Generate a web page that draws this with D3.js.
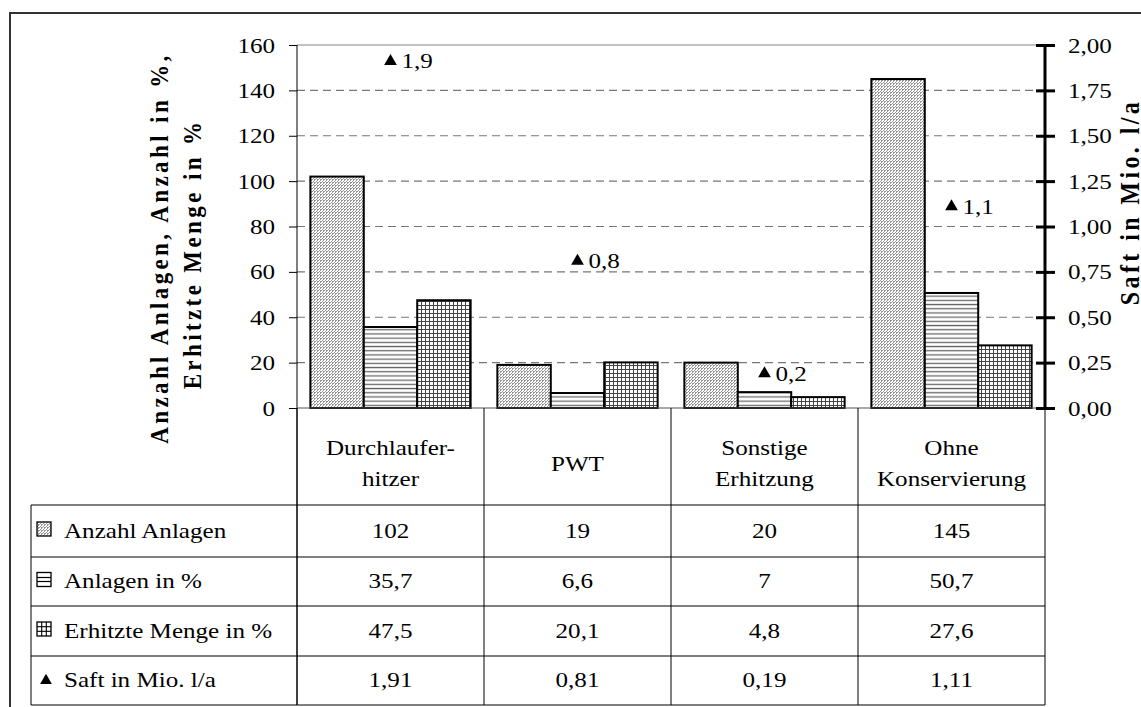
<!DOCTYPE html>
<html><head><meta charset="utf-8">
<script src="https://cdn.jsdelivr.net/npm/d3@7"></script>
<style>
html,body{margin:0;padding:0;background:#fff;}
svg{display:block;font-family:"Liberation Serif","Times New Roman",serif;}
text{font-family:"Liberation Serif","Times New Roman",serif;fill:#000;}
.sx{transform-box:fill-box;}
.sx.l{transform-origin:left center;transform:scaleX(1.14);}
.sx.m{transform-origin:center center;transform:scaleX(1.14);}
.sx.r{transform-origin:right center;transform:scaleX(1.14);}
.sy{transform-box:fill-box;transform-origin:center center;transform:scaleY(1.1);}
</style></head>
<body>
<svg id="c" width="1141" height="707"></svg>
<script>
// ---- data ----
const categories = [["Durchlaufer-","hitzer"],["PWT"],["Sonstige","Erhitzung"],["Ohne","Konservierung"]];
const seriesNames = ["Anzahl Anlagen","Anlagen in %","Erhitzte Menge in %","Saft in Mio. l/a"];
const anzahlAnlagen = [102,19,20,145];
const anlagenProzent = [35.7,6.6,7,50.7];
const erhitzteMenge = [47.5,20.1,4.8,27.6];
const saftMio = [1.91,0.81,0.19,1.11];
const leftTicks = [0,20,40,60,80,100,120,140,160];
const rightTicks = [0,0.25,0.5,0.75,1,1.25,1.5,1.75,2];
const tableText = [
  ["102","19","20","145"],
  ["35,7","6,6","7","50,7"],
  ["47,5","20,1","4,8","27,6"],
  ["1,91","0,81","0,19","1,11"]
];

const FS = "22px";
const svg = d3.select("#c");
const defs = svg.append("defs");

// patterns
const pA = defs.append("pattern").attr("id","pA").attr("patternUnits","userSpaceOnUse").attr("width",3).attr("height",3);
pA.append("rect").attr("width",3).attr("height",3).attr("fill","#fff");
pA.append("path").attr("d","M-1,1 L1,-1 M0,3 L3,0 M2,4 L4,2").attr("stroke","#8a8a8a").attr("stroke-width",0.9);
pA.append("rect").attr("x",2).attr("y",2).attr("width",0.8).attr("height",0.8).attr("fill","#555");
const pB = defs.append("pattern").attr("id","pB").attr("patternUnits","userSpaceOnUse").attr("width",4).attr("height",4.2);
pB.append("rect").attr("width",4).attr("height",4.2).attr("fill","#fff");
pB.append("rect").attr("y",1.5).attr("width",4).attr("height",1.3).attr("fill","#666");
const pC = defs.append("pattern").attr("id","pC").attr("patternUnits","userSpaceOnUse").attr("width",4).attr("height",4);
pC.append("rect").attr("width",4).attr("height",4).attr("fill","#fff");
pC.append("rect").attr("y",1).attr("width",4).attr("height",1).attr("fill","#444");
pC.append("rect").attr("x",1).attr("width",1).attr("height",4).attr("fill","#444");

const fills = ["url(#pA)","url(#pB)","url(#pC)"];
const barSeries = [anzahlAnlagen, anlagenProzent, erhitzteMenge];

// layout
const L = 297, R = 1045, T = 45, B = 408;
const x = d3.scaleBand().domain(d3.range(categories.length)).range([L,R]).paddingInner(0).paddingOuter(0);
const xs = d3.scaleBand().domain(d3.range(3)).range([0,x.bandwidth()]).paddingOuter(0.25).paddingInner(0);
const y = d3.scaleLinear().domain([0,160]).range([B,T]);
const y2 = d3.scaleLinear().domain([0,2]).range([B,T]);

// outer frame
svg.append("path").attr("d","M10,707 L10,13 L1141,13").attr("fill","none").attr("stroke","#333").attr("stroke-width",2);

// gridlines
svg.append("g").selectAll("line").data(leftTicks.filter(d=>d>0 && d<160)).join("line")
  .attr("x1",L).attr("x2",R).attr("y1",d=>y(d)).attr("y2",d=>y(d))
  .attr("stroke","#777").attr("stroke-width",1.2).attr("stroke-dasharray","8,5");
svg.append("line").attr("x1",L).attr("x2",R).attr("y1",y(160)).attr("y2",y(160)).attr("stroke","#888").attr("stroke-width",1.2);

// bars
const gb = svg.append("g");
categories.forEach((c,i)=>{
  barSeries.forEach((s,j)=>{
    gb.append("rect")
      .attr("x",x(i)+xs(j)).attr("width",xs.bandwidth())
      .attr("y",y(s[i])).attr("height",B-y(s[i]))
      .attr("fill",fills[j]).attr("stroke","#000").attr("stroke-width",2);
  });
});

// left axis
const ax = d3.axisLeft(y).tickValues(leftTicks).tickSize(8).tickPadding(14).tickFormat(d3.format("d"));
const gL = svg.append("g").attr("transform",`translate(${L},0)`).call(ax);
gL.attr("font-family",null).attr("font-size",null);
gL.select(".domain").remove();
gL.selectAll("line").attr("stroke","#000");
gL.selectAll("text").attr("class","sx r").style("font-size",FS);
svg.append("line").attr("x1",L).attr("x2",L).attr("y1",T).attr("y2",705).attr("stroke","#000").attr("stroke-width",1);

// x baseline
svg.append("line").attr("x1",L).attr("x2",R).attr("y1",B).attr("y2",B).attr("stroke","#555").attr("stroke-width",1.2);

// right axis
const fmt2 = v => d3.format(".2f")(v).replace(".",",");
const ar = d3.axisRight(y2).tickValues(rightTicks).tickSize(10).tickPadding(13).tickFormat(fmt2);
const gR = svg.append("g").attr("transform",`translate(${R},0)`).call(ar);
gR.attr("font-family",null).attr("font-size",null);
gR.select(".domain").remove();
gR.selectAll(".tick line").attr("x1",-9).attr("stroke","#000").attr("stroke-width",3);
gR.selectAll("text").attr("class","sx l").style("font-size",FS);
svg.append("line").attr("x1",R).attr("x2",R).attr("y1",T).attr("y2",B).attr("stroke","#000").attr("stroke-width",3);

// triangles + labels
const tri = d3.symbol().type(d3.symbolTriangle).size(70);
const gt = svg.append("g");
saftMio.forEach((v,i)=>{
  const cx = x(i)+x.bandwidth()/2, cy = y2(v);
  gt.append("path").attr("d",tri()).attr("transform",`translate(${cx},${cy})`).attr("fill","#000");
  gt.append("text").attr("class","sx l").attr("x",cx+11).attr("y",cy+7).style("font-size",FS)
    .text(d3.format(".1f")(v).replace(".",","));
});

// axis titles
const t1 = svg.append("g").attr("transform","translate(167,248) rotate(-90)");
t1.append("text").attr("class","sy").attr("text-anchor","middle")
  .style("font-size","23px").style("font-weight","bold").style("letter-spacing","3.4px")
  .text("Anzahl Anlagen, Anzahl in %,");
const t2 = svg.append("g").attr("transform","translate(200,254) rotate(-90)");
t2.append("text").attr("class","sy").attr("text-anchor","middle")
  .style("font-size","23px").style("font-weight","bold").style("letter-spacing","3.4px")
  .text("Erhitzte Menge in %");
const t3 = svg.append("g").attr("transform","translate(1138,202) rotate(-90)");
t3.append("text").attr("class","sy").attr("text-anchor","middle")
  .style("font-size","24px").style("font-weight","bold").style("letter-spacing","3.4px")
  .text("Saft in Mio. l/a");

// table
const gtab = svg.append("g");
const rowTop = [505,557,606,656], rowBot = 705;
const colLines = [L].concat(categories.map((c,i)=>x(i)+x.bandwidth()));
colLines.forEach(cx=>{
  gtab.append("line").attr("x1",cx).attr("x2",cx).attr("y1",B).attr("y2",rowBot).attr("stroke","#000").attr("stroke-width",1);
});
gtab.append("line").attr("x1",31).attr("x2",31).attr("y1",505).attr("y2",rowBot).attr("stroke","#000").attr("stroke-width",1);
rowTop.concat([rowBot]).forEach(yy=>{
  gtab.append("line").attr("x1",31).attr("x2",R).attr("y1",yy).attr("y2",yy).attr("stroke","#000").attr("stroke-width",1.2);
});
// category headers
categories.forEach((c,i)=>{
  const cx = x(i)+x.bandwidth()/2;
  const y0 = c.length===1 ? 471 : 455;
  c.forEach((ln,k)=>{
    gtab.append("text").attr("class","sx m").attr("text-anchor","middle").style("font-size",FS)
      .attr("x",cx).attr("y",y0+k*31).text(ln);
  });
});
// rows
tableText.forEach((row,r)=>{
  const cy = (rowTop[r] + (r<3?rowTop[r+1]:rowBot))/2 + 7;
  if(r===0){
    gtab.append("rect").attr("x",37).attr("y",cy-16).attr("width",14).attr("height",14)
      .attr("fill",fills[0]).attr("stroke","#000").attr("stroke-width",1.3);
  } else if(r===1){
    gtab.append("rect").attr("x",37).attr("y",cy-16).attr("width",14).attr("height",14)
      .attr("fill","#fff").attr("stroke","#000").attr("stroke-width",1.3);
    gtab.append("line").attr("x1",37).attr("x2",51).attr("y1",cy-11).attr("y2",cy-11).attr("stroke","#000").attr("stroke-width",1.2);
    gtab.append("line").attr("x1",37).attr("x2",51).attr("y1",cy-7).attr("y2",cy-7).attr("stroke","#000").attr("stroke-width",1.2);
  } else if(r===2){
    gtab.append("rect").attr("x",37).attr("y",cy-16).attr("width",14).attr("height",14)
      .attr("fill","#fff").attr("stroke","#000").attr("stroke-width",1.3);
    [41.7,46.3].forEach(v=>{
      gtab.append("line").attr("x1",v).attr("x2",v).attr("y1",cy-16).attr("y2",cy-2).attr("stroke","#000").attr("stroke-width",1.1);
    });
    [cy-11.3,cy-6.7].forEach(v=>{
      gtab.append("line").attr("x1",37).attr("x2",51).attr("y1",v).attr("y2",v).attr("stroke","#000").attr("stroke-width",1.1);
    });
  } else {
    gtab.append("path").attr("d",d3.symbol().type(d3.symbolTriangle).size(60)()).attr("transform",`translate(46,${cy-7})`).attr("fill","#000");
  }
  gtab.append("text").attr("class","sx l").attr("x",64).attr("y",cy).style("font-size",FS).text(seriesNames[r]);
  row.forEach((v,i)=>{
    gtab.append("text").attr("class","sx m").attr("x",x(i)+x.bandwidth()/2).attr("y",cy).attr("text-anchor","middle").style("font-size",FS).text(v);
  });
});
</script>
</body></html>
